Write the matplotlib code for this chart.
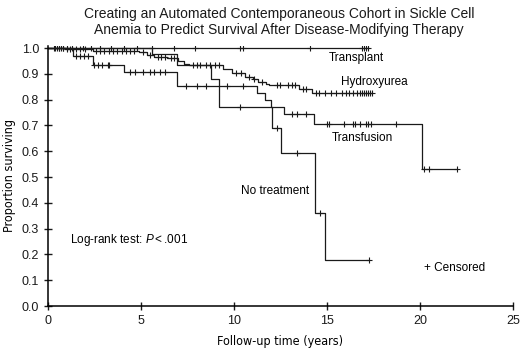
import numpy as np
import matplotlib
matplotlib.use('Agg')
import matplotlib.pyplot as plt
from matplotlib import font_manager

plt.rcParams['font.family'] = ['Liberation Sans', 'DejaVu Sans']
plt.rcParams['mathtext.fontset'] = 'custom'
plt.rcParams['mathtext.rm'] = 'Liberation Sans'
plt.rcParams['mathtext.it'] = 'Liberation Sans:italic'

# step curves: event times and survival after each event
transplant_t = [0.0]
transplant_s = [1.0]
transplant_end = 17.2
transplant_cens = [0.4, 0.6, 0.8, 1.0, 1.3, 1.9, 2.3, 2.8, 3.4, 4.1, 4.8, 5.6, 6.8, 7.9,
                   10.3, 10.5, 14.1, 16.9, 17.0, 17.1, 17.2]

hydroxy_t = [0.0, 0.9, 2.4, 4.9, 5.3, 5.7, 6.4, 7.0, 7.3, 7.6, 9.4, 9.9, 10.6, 11.0,
             11.3, 11.7, 11.9, 13.5, 14.2]
hydroxy_s = [1.0, 0.995, 0.99, 0.985, 0.975, 0.965, 0.96, 0.95, 0.94, 0.934, 0.92,
             0.905, 0.888, 0.88, 0.868, 0.862, 0.857, 0.84, 0.826]
hydroxy_end = 17.4
hydroxy_cens = [0.3, 0.5, 0.6, 0.7, 0.8, 1.0, 1.2, 1.5, 1.7, 2.0, 2.6, 2.8, 3.0, 3.3,
                3.5, 3.7, 4.0, 4.2, 4.4, 4.6, 5.1, 5.5, 5.9, 6.1, 6.3, 6.6, 6.8, 7.8,
                8.0, 8.2, 8.5, 8.7, 9.0, 9.2, 10.1, 10.4, 10.8, 11.1, 11.5, 12.3, 12.5,
                12.9, 13.1, 13.3, 13.7, 13.9, 14.4, 14.6, 14.9, 15.2, 15.5, 15.8, 16.0,
                16.2, 16.4, 16.6, 16.8, 16.9, 17.0, 17.1, 17.2, 17.3, 17.4]

transf_t = [0.0, 1.35, 2.4, 4.1, 6.96, 11.26, 11.65, 11.97, 12.69, 14.3, 20.1]
transf_s = [1.0, 0.97, 0.934, 0.906, 0.853, 0.826, 0.80, 0.773, 0.744, 0.704, 0.53]
transf_end = 22.0
transf_cens = [1.5, 1.7, 1.95, 2.15, 2.5, 2.7, 2.9, 3.2, 3.3, 4.4, 4.7, 5.1, 5.5, 5.7,
               6.0, 6.3, 7.4, 8.0, 8.5, 9.6, 10.5, 13.1, 13.4, 13.9, 15.0, 15.1, 15.9,
               16.4, 16.5, 16.8, 17.1, 17.2, 17.35, 18.7, 20.2, 20.5, 22.0]

notrt_t = [0.0, 5.6, 6.96, 8.76, 9.2, 12.06, 12.51, 14.38, 14.88]
notrt_s = [1.0, 0.977, 0.934, 0.882, 0.773, 0.689, 0.593, 0.359, 0.178]
notrt_end = 17.24
notrt_cens = [10.3, 12.3, 13.4, 14.65, 17.24]

curves = [
    (transplant_t, transplant_s, transplant_end, transplant_cens),
    (hydroxy_t, hydroxy_s, hydroxy_end, hydroxy_cens),
    (transf_t, transf_s, transf_end, transf_cens),
    (notrt_t, notrt_s, notrt_end, notrt_cens),
]

fig = plt.figure(figsize=(5.2, 3.53), dpi=100)
ax = fig.add_axes([0.0923, 0.1331, 0.8940, 0.738])

col = '#1a1a1a'
for t, s, end, cens in curves:
    tt = np.append(t, end)
    ss = np.append(s, s[-1])
    ax.step(tt, ss, where='post', color=col, lw=0.9)
    idx = np.searchsorted(t, cens, side='right') - 1
    ax.plot(cens, np.array(s)[idx], '+', color=col, ms=4, mew=0.8)

ax.set_xlim(0, 25)
ax.set_ylim(0, 1.01)
ax.set_xticks([0, 5, 10, 15, 20, 25])
ax.set_yticks(np.arange(0, 1.01, 0.1))
ax.set_yticklabels([f'{v:.1f}' for v in np.arange(0, 1.01, 0.1)])
ax.tick_params(direction='inout', length=6, width=1, labelsize=9, colors='#1a1a1a')
for sp in ['top', 'right']:
    ax.spines[sp].set_visible(False)
for sp in ['left', 'bottom']:
    ax.spines[sp].set_linewidth(1.1)

# condensed face for the axis titles
lab_prop = font_manager.FontProperties(family='DejaVu Sans', stretch='condensed', size=9)
ax.set_xlabel('Follow-up time (years)', fontproperties=lab_prop, labelpad=6)
ax.set_ylabel('Proportion surviving', fontproperties=lab_prop, labelpad=4)

fs = 8.5
ax.text(15.1, 0.961, 'Transplant', fontsize=fs, va='center')
ax.text(15.74, 0.869, 'Hydroxyurea', fontsize=fs, va='center')
ax.text(15.26, 0.652, 'Transfusion', fontsize=fs, va='center')
ax.text(10.37, 0.446, 'No treatment', fontsize=fs, va='center')
ax.text(1.18, 0.256, r'Log-rank test: $\mathit{P}<$.001', fontsize=fs, va='center')
ax.text(20.2, 0.147, '+ Censored', fontsize=fs, va='center')

fig.text(0.537, 0.98, 'Creating an Automated Contemporaneous Cohort in Sickle Cell\n'
         'Anemia to Predict Survival After Disease-Modifying Therapy',
         ha='center', va='top', fontsize=10, linespacing=1.15, color='#1a1a1a')

fig.savefig('out.png', dpi=100)
